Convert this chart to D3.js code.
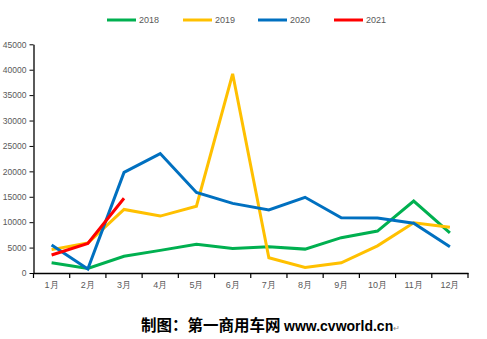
<!DOCTYPE html>
<html>
<head>
<meta charset="utf-8">
<script src="https://cdn.jsdelivr.net/npm/d3@7/dist/d3.min.js"></script>
<style>
  html, body { margin: 0; padding: 0; background: #fff; }
  svg { display: block; }
</style>
</head>
<body>
<svg id="chart" width="487" height="339"></svg>
<script>
// Monthly sales, 2018–2021
const months = ["1月","2月","3月","4月","5月","6月","7月","8月","9月","10月","11月","12月"];
const yTicks = [0,5000,10000,15000,20000,25000,30000,35000,40000,45000];
const series2018 = [2000, 900, 3300, 4450, 5650, 4800, 5150, 4700, 6950, 8250, 14150, 7900];
const series2019 = [4600, 5900, 12500, 11200, 13150, 39200, 3000, 1100, 2000, 5350, 9900, 9000];
const series2020 = [5500, 800, 19800, 23500, 15850, 13700, 12400, 14900, 10850, 10800, 9800, 5150];
const series2021 = [3550, 5800, 14700];
const seriesNames = ["2018", "2019", "2020", "2021"];
const seriesColors = ["#00B050", "#FFC000", "#0070C0", "#FF0000"];
const seriesData = [series2018, series2019, series2020, series2021];

const svg = d3.select("#chart");
const plotLeft = 33.5, plotRight = 468, plotTop = 44.3, plotBottom = 273;
const labelFont = "Liberation Sans, Arial, sans-serif";

const x = d3.scaleBand().domain(months).range([plotLeft, plotRight]);
const y = d3.scaleLinear().domain([0, 45000]).range([plotBottom, plotTop]);

// y axis
const yAxis = svg.append("g")
  .attr("transform", `translate(${plotLeft},0)`)
  .call(d3.axisLeft(y).tickValues(yTicks).tickFormat(d3.format("d"))
    .tickSize(4).tickSizeOuter(0).tickPadding(3));
yAxis.select(".domain").attr("stroke", "#000").attr("stroke-width", 1.3);
yAxis.selectAll(".tick line").attr("stroke", "#000");
yAxis.selectAll(".tick text")
  .attr("fill", "#595959")
  .style("font-family", labelFont)
  .style("font-size", "8.5px");

// x axis with ticks at category boundaries
const xAxis = svg.append("g")
  .attr("transform", `translate(0,${plotBottom})`)
  .call(d3.axisBottom(x).tickSize(0).tickSizeOuter(0).tickPadding(9));
xAxis.select(".domain").attr("stroke", "#000").attr("stroke-width", 1.3);
xAxis.selectAll(".tick text")
  .attr("fill", "#595959")
  .style("font-family", labelFont)
  .style("font-size", "9px");
const bounds = months.map(m => x(m)).concat([x.range()[1]]);
xAxis.selectAll(".bound")
  .data(bounds)
  .enter().append("line")
  .attr("class", "bound")
  .attr("x1", d => d).attr("x2", d => d)
  .attr("y1", 0).attr("y2", 5)
  .attr("stroke", "#000").attr("stroke-width", 1.2);

// series lines
const line = d3.line()
  .x((d, i) => x(months[i]) + x.bandwidth() / 2)
  .y(d => y(d));

seriesData.forEach((data, k) => {
  svg.append("path")
    .datum(data)
    .attr("fill", "none")
    .attr("stroke", seriesColors[k])
    .attr("stroke-width", 3)
    .attr("stroke-linejoin", "miter")
    .attr("d", line);
});

// legend
const legendX = [107, 183, 258, 334];
const legend = svg.append("g");
seriesNames.forEach((name, k) => {
  const g = legend.append("g").attr("transform", `translate(${legendX[k]},20)`);
  g.append("line")
    .attr("x1", 0).attr("x2", 29)
    .attr("y1", 0).attr("y2", 0)
    .attr("stroke", seriesColors[k])
    .attr("stroke-width", 3);
  g.append("text")
    .attr("x", 32).attr("y", 3.3)
    .attr("fill", "#595959")
    .style("font-family", labelFont)
    .style("font-size", "9px")
    .text(name);
});

// source line
const src = svg.append("text")
  .attr("x", 141).attr("y", 331)
  .attr("fill", "#000")
  .style("font-weight", "bold");
src.append("tspan")
  .style("font-family", "Noto Sans CJK SC, sans-serif")
  .style("font-size", "15.5px")
  .text("制图：第一商用车网 ");
src.append("tspan")
  .style("font-family", "Liberation Sans, Arial, sans-serif")
  .style("font-size", "14px")
  .text("www.cvworld.cn");
src.append("tspan")
  .attr("fill", "#888")
  .style("font-weight", "normal")
  .style("font-family", "DejaVu Sans, sans-serif")
  .style("font-size", "8px")
  .text("↵");
</script>
</body>
</html>
